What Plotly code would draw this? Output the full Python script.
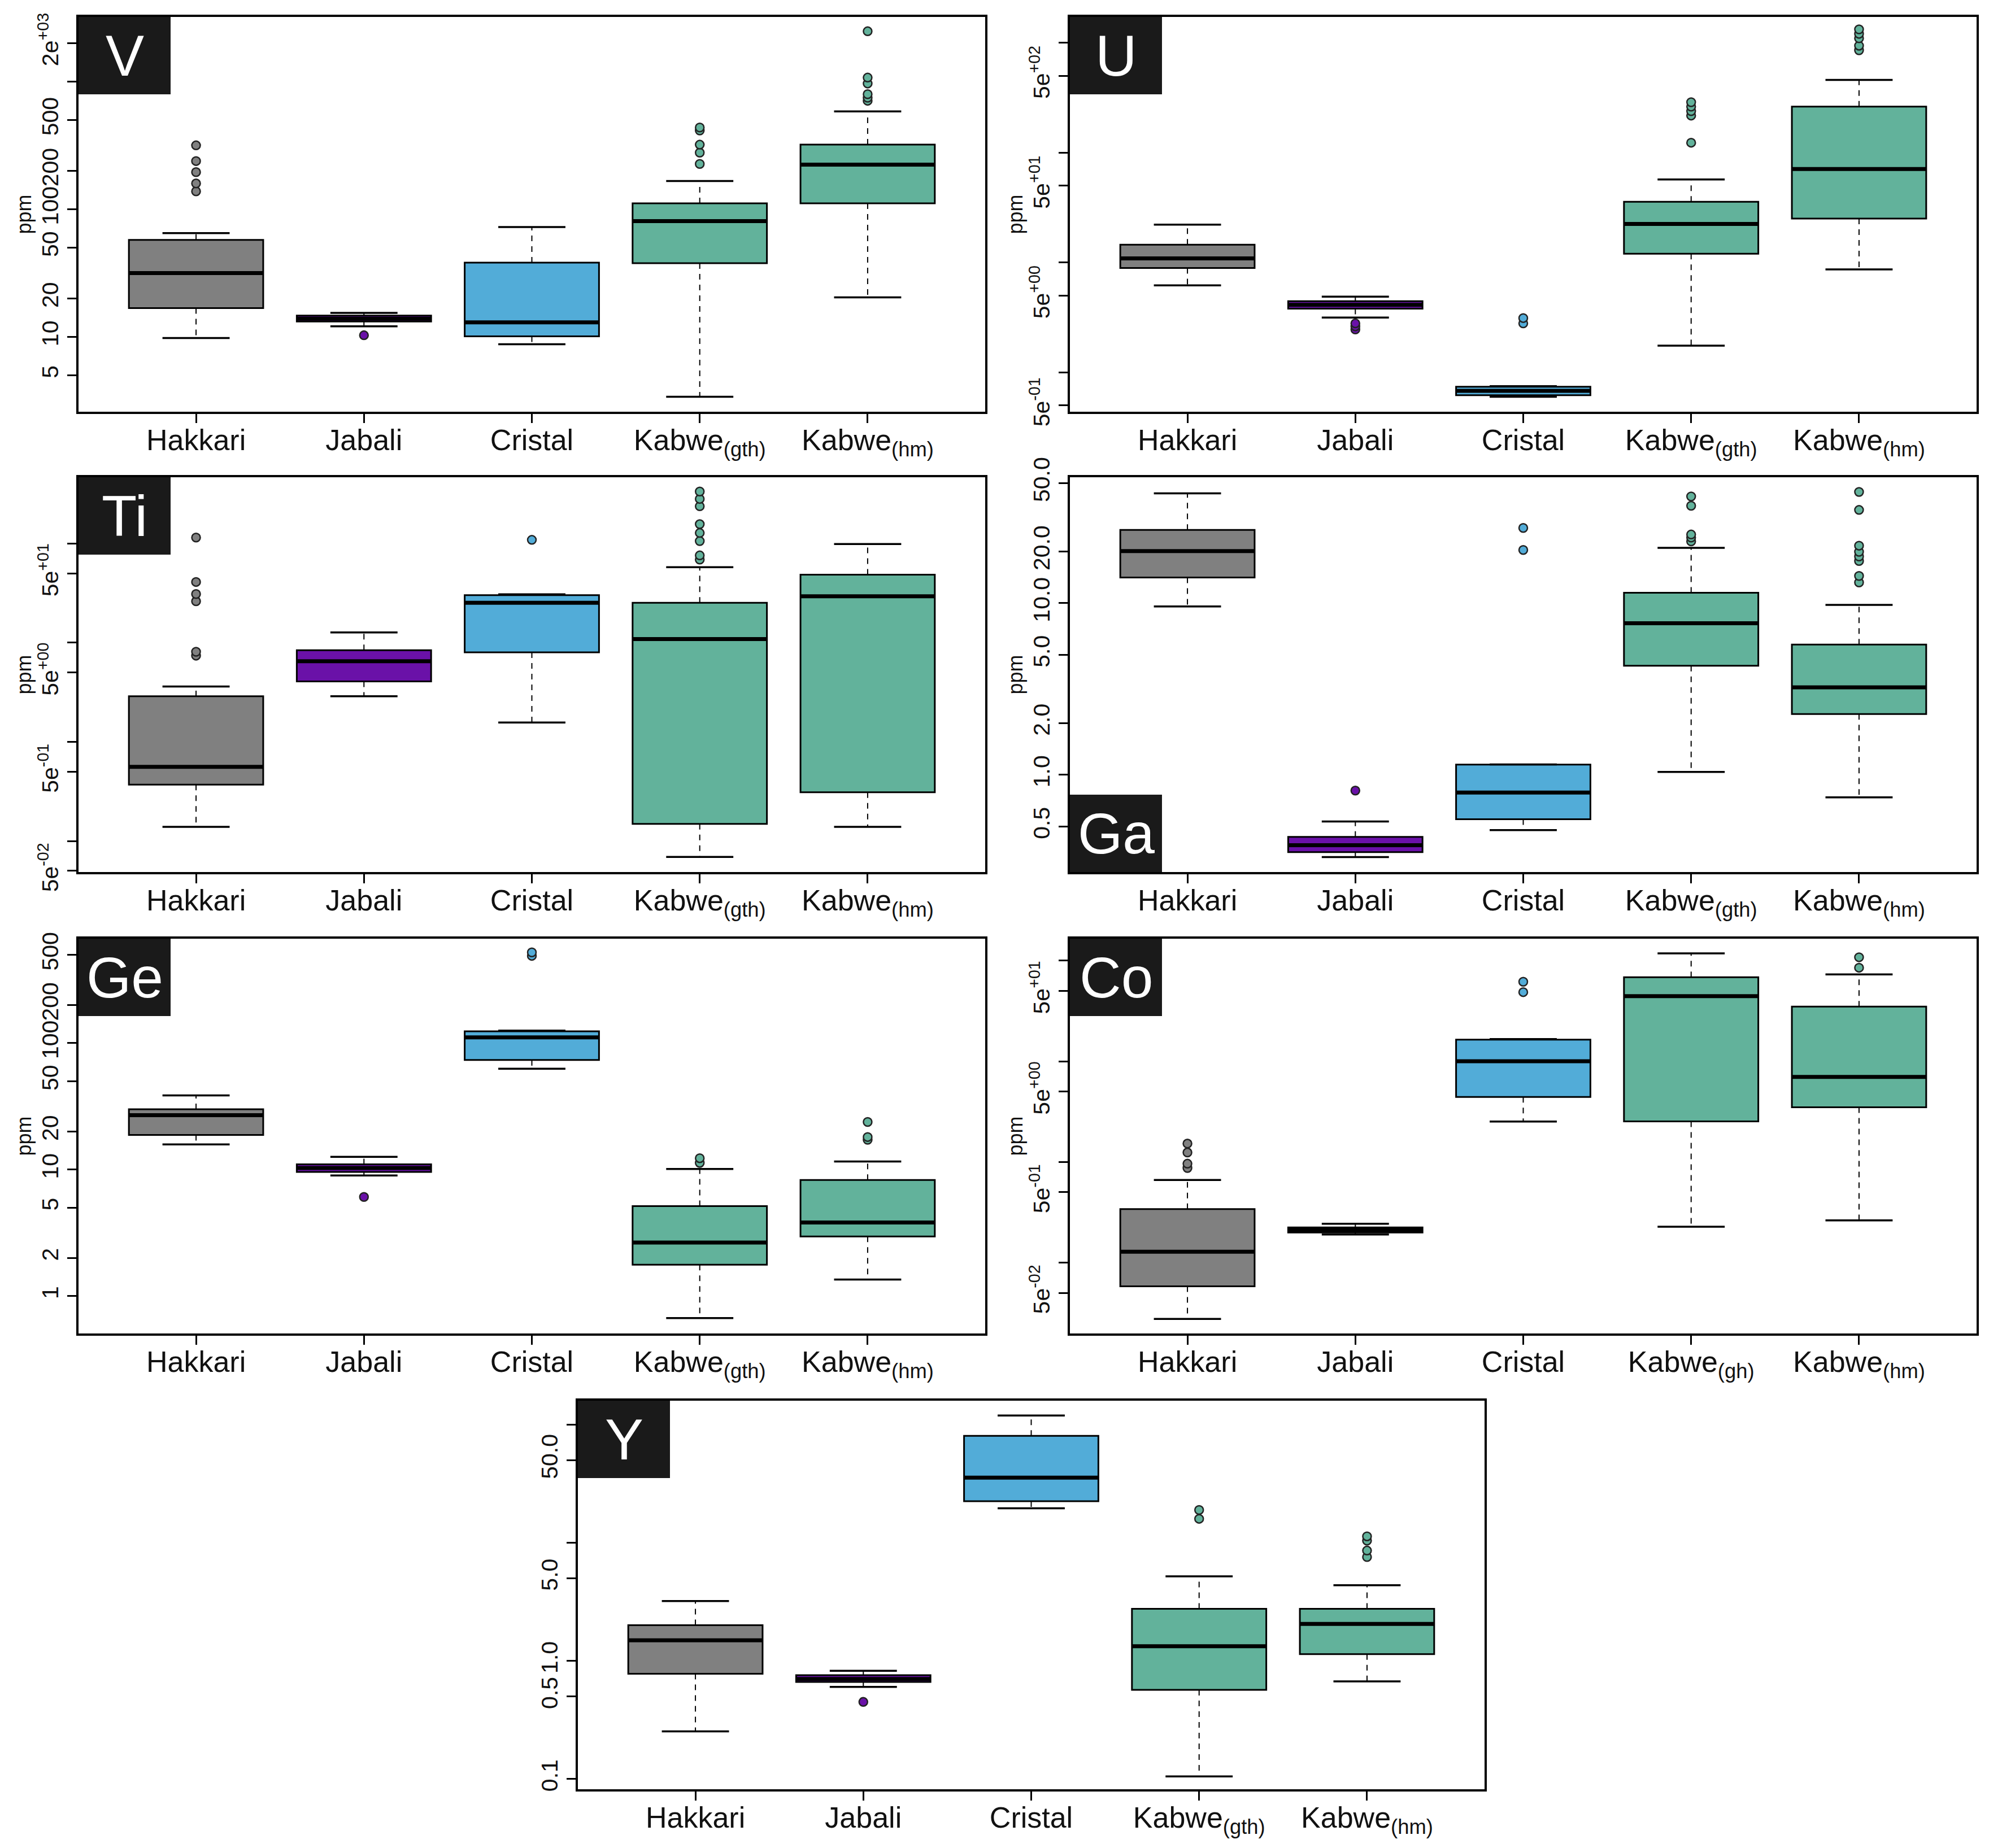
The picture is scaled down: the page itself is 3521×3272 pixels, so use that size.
import plotly.graph_objects as go

# ---------------- data ----------------
groups = ["Hakkari", "Jabali", "Cristal", "Kabwe<sub>(gth)</sub>", "Kabwe<sub>(hm)</sub>"]
groups_co = ["Hakkari", "Jabali", "Cristal", "Kabwe<sub>(gh)</sub>", "Kabwe<sub>(hm)</sub>"]
group_colors = ["#808080", "#6a11a8", "#52acd8", "#62b29b", "#62b29b"]

V_low = [9.8, 12.1, 8.75, 3.4, 20.4]
V_q1 = [16.8, 13.2, 10.1, 37.8, 111]
V_med = [31.6, 13.9, 13.0, 80.7, 223]
V_q3 = [57.5, 14.7, 38.1, 111, 320]
V_high = [65, 15.4, 72.5, 166, 582]
V_out = [[138, 159, 195, 238, 316], [10.3], [], [226, 277, 320, 413, 436],
         [706, 745, 795, 963, 1072, 2472]]

U_low = [6.2, 3.15, 0.60, 1.75, 8.65]
U_q1 = [8.9, 3.8, 0.62, 12.0, 25.1]
U_med = [10.9, 4.12, 0.68, 22.4, 70.8]
U_q3 = [14.5, 4.44, 0.74, 35.7, 262]
U_high = [22.1, 4.88, 0.75, 57, 458]
U_out = [[], [2.46, 2.62, 2.79], [2.79, 3.12], [123, 217, 238, 262, 287],
         [853, 938, 1096, 1203, 1321]]

Ti_low = [0.139, 2.88, 1.57, 0.069, 0.139]
Ti_q1 = [0.37, 4.07, 8.0, 0.149, 0.31]
Ti_med = [0.56, 6.5, 25.3, 10.9, 29.4]
Ti_q3 = [2.88, 8.4, 30.2, 25.3, 48.6]
Ti_high = [3.62, 12.7, 30.8, 57.8, 99]
Ti_out = [[7.4, 8.1, 26.2, 31, 41, 115], [], [109],
          [69, 76, 106, 128, 157, 238, 282, 335], []]

Ga_low = [9.57, 0.332, 0.477, 1.04, 0.74]
Ga_q1 = [14.1, 0.355, 0.551, 4.32, 2.26]
Ga_med = [20.1, 0.389, 0.788, 7.64, 3.23]
Ga_q3 = [26.7, 0.435, 1.147, 11.5, 5.74]
Ga_high = [43.6, 0.535, 1.15, 21.0, 9.76]
Ga_out = [[], [0.81], [20.4, 27.4], [22.9, 24.1, 25.1, 36.9, 41.8],
          [13.2, 14.4, 17.6, 18.7, 19.9, 21.6, 34.9, 44.4]]

Ge_low = [15.8, 8.98, 62.8, 0.67, 1.35]
Ge_q1 = [18.8, 9.58, 73.5, 1.77, 2.96]
Ge_med = [26.9, 10.3, 111, 2.65, 3.82]
Ge_q3 = [30, 11.0, 124, 5.14, 8.28]
Ge_high = [38.6, 12.6, 125.6, 10.1, 11.6]
Ge_out = [[], [6.08], [490, 522], [11.3, 12.3], [17.2, 18.1, 23.8]]

Co_low = [0.0275, 0.19, 2.52, 0.227, 0.262]
Co_q1 = [0.058, 0.199, 4.42, 2.53, 3.49]
Co_med = [0.128, 0.211, 10, 44.3, 6.98]
Co_q3 = [0.34, 0.223, 16.4, 68.4, 34.9]
Co_high = [0.66, 0.243, 16.6, 118, 73]
Co_out = [[0.87, 0.96, 1.24, 1.52], [], [48.6, 61.7], [], [85, 108]]

Y_low = [0.253, 0.601, 19.5, 0.105, 0.67]
Y_q1 = [0.776, 0.662, 22.4, 0.567, 1.14]
Y_med = [1.49, 0.701, 35.5, 1.33, 2.05]
Y_q3 = [2.0, 0.755, 80, 2.75, 2.75]
Y_high = [3.2, 0.822, 119, 5.18, 4.36]
Y_out = [[], [0.449], [], [15.9, 18.9], [7.56, 8.57, 10.4, 11.3]]

# labelled ticks and unlabelled (minor) ticks
V_tickvals = [5, 10, 20, 50, 100, 200, 500, 2000]
V_ticktext = ["5", "10", "20", "50", "100", "200", "500", "2e<sup>+03</sup>"]
V_minor = [1000]
U_tickvals = [0.5, 5, 50, 500]
U_ticktext = ["5e<sup>-01</sup>", "5e<sup>+00</sup>", "5e<sup>+01</sup>", "5e<sup>+02</sup>"]
U_minor = [1, 10, 100, 1000]
Ti_tickvals = [0.05, 0.5, 5, 50]
Ti_ticktext = ["5e<sup>-02</sup>", "5e<sup>-01</sup>", "5e<sup>+00</sup>", "5e<sup>+01</sup>"]
Ti_minor = [0.1, 1, 10, 100]
Ga_tickvals = [0.5, 1, 2, 5, 10, 20, 50]
Ga_ticktext = ["0.5", "1.0", "2.0", "5.0", "10.0", "20.0", "50.0"]
Ga_minor = []
Ge_tickvals = [1, 2, 5, 10, 20, 50, 100, 200, 500]
Ge_ticktext = ["1", "2", "5", "10", "20", "50", "100", "200", "500"]
Ge_minor = []
Co_tickvals = [0.05, 0.5, 5, 50]
Co_ticktext = ["5e<sup>-02</sup>", "5e<sup>-01</sup>", "5e<sup>+00</sup>", "5e<sup>+01</sup>"]
Co_minor = [0.1, 1, 10, 100]
Y_tickvals = [0.1, 0.5, 1, 5, 50]
Y_ticktext = ["0.1", "0.5", "1.0", "5.0", "50.0"]
Y_minor = [10, 100]

# ---------------- layout / style ----------------
W, H = 3521, 3272          # browser window
OFF = 8                    # default page body margin
FW, FH = W - 2 * OFF, H - 2 * OFF
FONT = "Liberation Sans, Arial, Helvetica, sans-serif"

panels = [
    dict(name="V", low=V_low, q1=V_q1, med=V_med, q3=V_q3, high=V_high, out=V_out,
         tv=V_tickvals, tt=V_ticktext, mn=V_minor, groups=groups, yr=[0.414, 3.505],
         box=(139, 1744, 30, 729), corner="top", ppm=True),
    dict(name="U", low=U_low, q1=U_q1, med=U_med, q3=U_q3, high=U_high, out=U_out,
         tv=U_tickvals, tt=U_ticktext, mn=U_minor, groups=groups, yr=[-0.358, 3.234],
         box=(1894, 3499, 30, 729), corner="top", ppm=True),
    dict(name="Ti", low=Ti_low, q1=Ti_q1, med=Ti_med, q3=Ti_q3, high=Ti_high, out=Ti_out,
         tv=Ti_tickvals, tt=Ti_ticktext, mn=Ti_minor, groups=groups, yr=[-1.313, 2.669],
         box=(139, 1744, 845, 1544), corner="top", ppm=True),
    dict(name="Ga", low=Ga_low, q1=Ga_q1, med=Ga_med, q3=Ga_q3, high=Ga_high, out=Ga_out,
         tv=Ga_tickvals, tt=Ga_ticktext, mn=Ga_minor, groups=groups, yr=[-0.566, 1.733],
         box=(1894, 3499, 845, 1544), corner="bottom", ppm=True),
    dict(name="Ge", low=Ge_low, q1=Ge_q1, med=Ge_med, q3=Ge_q3, high=Ge_high, out=Ge_out,
         tv=Ge_tickvals, tt=Ge_ticktext, mn=Ge_minor, groups=groups, yr=[-0.296, 2.826],
         box=(139, 1744, 1662, 2361), corner="top", ppm=True),
    dict(name="Co", low=Co_low, q1=Co_q1, med=Co_med, q3=Co_q3, high=Co_high, out=Co_out,
         tv=Co_tickvals, tt=Co_ticktext, mn=Co_minor, groups=groups_co, yr=[-1.705, 2.218],
         box=(1894, 3499, 1662, 2361), corner="top", ppm=True),
    dict(name="Y", low=Y_low, q1=Y_q1, med=Y_med, q3=Y_q3, high=Y_high, out=Y_out,
         tv=Y_tickvals, tt=Y_ticktext, mn=Y_minor, groups=groups, yr=[-1.087, 2.201],
         box=(1023, 2628, 2480, 3168), corner="top", ppm=False),
]


def fx(px):
    return (px - OFF) / FW


def fy(py):
    return 1 - (py - OFF) / FH


BOX_W = 0.8
CAP_HALF = 0.2
fig = go.Figure()
layout = dict(template="none", width=FW, height=FH, margin=dict(l=0, r=0, t=0, b=0, pad=0),
              paper_bgcolor="white", plot_bgcolor="white", showlegend=False,
              boxmode="overlay", font=dict(family=FONT, color="black"))
shapes, annotations = [], []

for k, p in enumerate(panels, start=1):
    xa = "x" if k == 1 else f"x{k}"
    ya = "y" if k == 1 else f"y{k}"
    xkey = "xaxis" if k == 1 else f"xaxis{k}"
    ykey = "yaxis" if k == 1 else f"yaxis{k}"
    x0, x1, y0, y1 = p["box"]
    layout[xkey] = dict(domain=[fx(x0), fx(x1)], anchor=ya, range=[0.3, 5.7],
                        automargin=False,
                        tickmode="array", tickvals=[1, 2, 3, 4, 5], ticktext=p["groups"],
                        showline=True, mirror=True, linecolor="black", linewidth=3.5,
                        ticks="outside", ticklen=16, tickwidth=3, tickcolor="black",
                        showgrid=False, zeroline=False, ticklabelstandoff=-14,
                        tickfont=dict(size=52, family=FONT, color="#111"))
    ydict = dict(domain=[fy(y1), fy(y0)], anchor=xa, type="log", automargin=False,
                 range=p["yr"], tickmode="array", tickvals=p["tv"], ticktext=p["tt"],
                 tickangle=-90, showline=True, mirror=True, linecolor="black",
                 linewidth=3.5, ticks="outside", ticklen=16, tickwidth=3,
                 tickcolor="black", showgrid=False, zeroline=False,
                 tickfont=dict(size=41, family=FONT, color="#111"))
    if p["mn"]:
        ydict["minor"] = dict(tickmode="array", tickvals=p["mn"], ticks="outside",
                              ticklen=16, tickwidth=3, tickcolor="black", showgrid=False)
    layout[ykey] = ydict

    for i in range(5):
        xi = i + 1
        col = group_colors[i]
        # dashed whiskers
        fig.add_trace(go.Scatter(
            x=[xi, xi, None, xi, xi],
            y=[p["q3"][i], p["high"][i], None, p["q1"][i], p["low"][i]],
            mode="lines", line=dict(color="black", width=2, dash="10px,9px"),
            xaxis=xa, yaxis=ya, hoverinfo="skip"))
        # caps
        fig.add_trace(go.Scatter(
            x=[xi - CAP_HALF, xi + CAP_HALF, None, xi - CAP_HALF, xi + CAP_HALF],
            y=[p["high"][i], p["high"][i], None, p["low"][i], p["low"][i]],
            mode="lines", line=dict(color="black", width=3.5),
            xaxis=xa, yaxis=ya, hoverinfo="skip"))
        # box
        fig.add_trace(go.Box(
            x=[xi], q1=[p["q1"][i]], median=[p["med"][i]], q3=[p["q3"][i]],
            lowerfence=[p["q1"][i]], upperfence=[p["q3"][i]],
            width=BOX_W, whiskerwidth=0, fillcolor=col,
            line=dict(color="black", width=3), boxpoints=False,
            xaxis=xa, yaxis=ya, hoverinfo="skip"))
        # thick median
        fig.add_trace(go.Scatter(
            x=[xi - BOX_W / 2, xi + BOX_W / 2], y=[p["med"][i], p["med"][i]],
            mode="lines", line=dict(color="black", width=7),
            xaxis=xa, yaxis=ya, hoverinfo="skip"))
        # outliers
        if p["out"][i]:
            fig.add_trace(go.Scatter(
                x=[xi] * len(p["out"][i]), y=p["out"][i], mode="markers",
                marker=dict(size=15, color=col, line=dict(color="#222", width=2.5)),
                xaxis=xa, yaxis=ya, hoverinfo="skip"))

    # element label box
    dx = "x domain" if k == 1 else f"x{k} domain"
    dy = "y domain" if k == 1 else f"y{k} domain"
    bw = 163 / (x1 - x0)
    bh = 137 / (y1 - y0)
    if p["corner"] == "top":
        by0, by1 = 1 - bh, 1
    else:
        by0, by1 = 0, bh
    shapes.append(dict(type="rect", xref=dx, yref=dy, x0=0, x1=bw, y0=by0, y1=by1,
                       fillcolor="#1a1a1a", line=dict(width=0), layer="above"))
    annotations.append(dict(text=p["name"], xref=dx, yref=dy, x=bw / 2, y=(by0 + by1) / 2,
                            xanchor="center", yanchor="middle", showarrow=False,
                            font=dict(size=102, color="white", family=FONT)))
    if p["ppm"]:
        annotations.append(dict(text="ppm", xref="paper", yref="paper",
                                x=fx(x0 - 97), y=fy((y0 + y1) / 2),
                                xanchor="center", yanchor="middle", textangle=-90,
                                showarrow=False, font=dict(size=36, family=FONT, color="#111")))

layout["shapes"] = shapes
layout["annotations"] = annotations
fig.update_layout(**layout)
fig.write_html("out.html", config={"displayModeBar": False})
